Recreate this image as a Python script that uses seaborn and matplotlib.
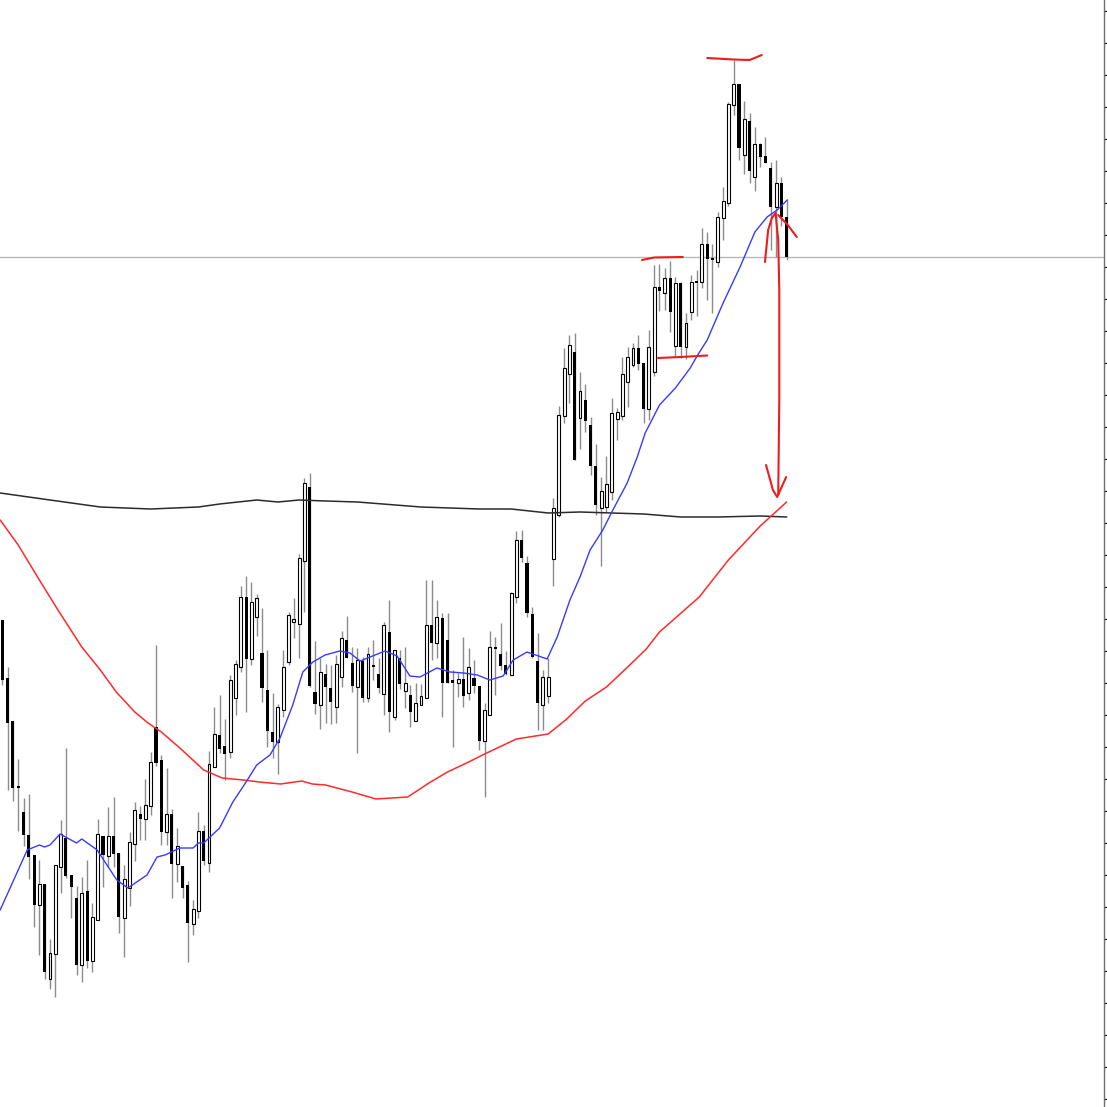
import numpy as np
import pandas as pd
import seaborn as sns
import matplotlib.pyplot as plt

# candle readings, chart levels measured from the top (axis is inverted)
open_ = [620, 678, 721, 786, 812, 835, 855, 905, 884, 979, 954, 867, 838, 875, 898, 965, 891, 961, 920, 836,
         856, 836, 853, 918, 888, 844, 814, 819, 806, 727, 760, 832, 814, 864, 866, 885, 924, 911, 831, 863,
         767, 735, 746, 752, 698, 667, 597, 659, 617, 653, 690, 732, 742, 710, 662, 622, 624, 561, 487, 692,
         705, 674, 688, 707, 677, 640, 663, 687, 661, 698, 665, 674, 694, 632, 717, 658, 691, 695, 721, 705,
         698, 625, 643, 618, 640, 680, 683, 679, 693, 678, 686, 741, 715, 647, 654, 665, 675, 597, 540, 563,
         614, 661, 705, 696, 559, 515, 416, 374, 352, 418, 400, 425, 466, 508, 507, 492, 419, 416, 382, 365,
         348, 363, 409, 372, 287, 293, 278, 346, 283, 347, 312, 281, 282, 244, 258, 262, 218, 203, 105, 84,
         155, 121, 177, 144, 156, 168, 207, 183, 217]
close = [680, 723, 788, 788, 835, 857, 905, 884, 972, 953, 865, 834, 876, 887, 965, 893, 961, 917, 834, 855,
         836, 854, 917, 879, 842, 810, 819, 805, 762, 763, 832, 814, 864, 846, 888, 923, 909, 831, 861, 764,
         734, 749, 754, 680, 664, 597, 659, 602, 598, 688, 731, 742, 707, 667, 615, 619, 558, 483, 686, 704,
         672, 687, 702, 664, 638, 658, 686, 660, 698, 654, 667, 688, 625, 712, 650, 684, 683, 712, 703, 696,
         625, 643, 617, 683, 683, 683, 679, 696, 667, 686, 741, 710, 647, 649, 666, 674, 593, 540, 558, 613,
         657, 703, 677, 677, 508, 415, 368, 345, 460, 391, 421, 466, 505, 491, 484, 413, 412, 374, 357, 348,
         364, 409, 347, 287, 291, 278, 312, 283, 347, 323, 282, 283, 244, 259, 260, 217, 201, 104, 84, 148,
         119, 171, 144, 157, 163, 207, 183, 217, 257]
wick_top = [620, 667, 721, 759, 798, 794, 855, 860, 884, 939, 865, 820, 748, 875, 886, 877, 860, 903, 819, 836,
            807, 797, 853, 865, 832, 802, 806, 779, 752, 645, 755, 768, 809, 828, 866, 881, 900, 812, 825, 751,
            707, 695, 719, 675, 660, 586, 576, 582, 594, 608, 650, 693, 704, 650, 612, 598, 554, 478, 473, 641,
            658, 664, 665, 655, 631, 616, 647, 648, 657, 647, 640, 658, 622, 600, 650, 650, 647, 685, 683, 684,
            580, 580, 600, 613, 613, 670, 673, 637, 648, 660, 686, 703, 631, 637, 623, 651, 592, 531, 530, 556,
            607, 633, 670, 658, 498, 406, 348, 335, 333, 372, 384, 417, 444, 477, 456, 398, 408, 357, 347, 343,
            335, 363, 330, 265, 264, 268, 261, 277, 282, 313, 275, 270, 228, 232, 244, 212, 187, 102, 60, 84,
            101, 113, 127, 143, 137, 162, 160, 177, 199]
wick_bot = [685, 790, 801, 831, 846, 879, 927, 955, 979, 989, 997, 893, 878, 918, 975, 982, 968, 972, 920, 887,
            867, 867, 933, 957, 906, 861, 840, 840, 815, 766, 845, 845, 898, 882, 898, 962, 935, 918, 865, 872,
            767, 753, 780, 758, 715, 672, 712, 665, 636, 702, 747, 758, 774, 717, 665, 638, 658, 612, 687, 714,
            729, 723, 724, 723, 687, 658, 692, 753, 702, 702, 680, 693, 715, 732, 720, 689, 708, 727, 721, 705,
            698, 660, 658, 717, 683, 747, 697, 707, 700, 693, 750, 797, 715, 695, 670, 675, 675, 603, 562, 617,
            658, 730, 730, 703, 586, 517, 423, 403, 460, 449, 432, 475, 515, 566, 512, 500, 440, 420, 407, 367,
            370, 423, 420, 376, 311, 310, 332, 357, 358, 359, 320, 316, 288, 300, 313, 267, 240, 206, 115, 160,
            174, 183, 191, 167, 163, 250, 257, 226, 260]

# moving averages, sampled at bar positions
ma_fast_bar = [-0.4, 4.7, 7, 8, 9, 10.9, 14, 15, 17.9, 21.6, 23.7, 27.3, 29.2, 30.7, 33.5, 36, 37, 38, 41, 43.5,
               46, 48, 50.5, 52.4, 54.8, 56.7, 58.6, 60.9, 63.7, 65.6, 67.5, 69.4, 72.2, 74.5, 76.9, 78.8, 82,
               84.5, 87, 89.6, 92, 94.5, 96.4, 99, 102.8, 104.7, 107.1, 109, 110.9, 113.3, 115.2, 117.9, 119.8,
               121.3, 124, 127, 129.8, 131.2, 133, 136, 139.2, 142, 144.3, 146.2, 148.1]
ma_fast = [910, 850, 845, 847, 845, 834, 843, 839, 850, 880, 888, 875, 857, 855, 848, 848, 843, 843, 828, 802,
           782, 765, 755, 738, 705, 672, 662, 655, 651, 653, 661, 657, 651, 656, 676, 677, 668, 672, 673, 675,
           680, 676, 660, 652, 659, 637, 600, 577, 550, 530, 510, 483, 457, 433, 405, 388, 368, 355, 340, 303,
           267, 232, 217, 210, 200]
ma_mid_bar = [-0.4, 3, 7, 10.5, 15, 18.5, 21.5, 25, 27.5, 30, 33.5, 38, 41.5, 45.5, 48.5, 52.5, 56.5, 58.5, 61,
              66, 70.5, 76.5, 80.5, 84, 88, 91, 97, 103, 106.5, 110, 114, 118, 121.5, 124, 131.5, 137, 143, 148]
ma_mid = [520, 545, 580, 610, 647, 670, 692, 712, 723, 732, 748, 770, 778, 780, 782, 784, 781, 784, 785, 792,
          799, 797, 783, 772, 762, 754, 739, 734, 719, 701, 687, 667, 649, 632, 597, 560, 526, 502]
ma_slow_bar = [-0.4, 9, 18.5, 28, 37, 41, 48, 52, 56, 61, 67, 79, 90, 96, 103, 109, 115, 121, 128, 135, 143, 148]
ma_slow = [493, 500, 507, 509, 507, 504, 500, 502, 500, 501, 502, 507, 509, 509, 513, 512, 513, 514, 517, 517,
           516, 517]

# hand drawn red marks
top_mark_bar = [133, 138, 141, 143.3]
top_mark_lvl = [58, 59.5, 60, 55]
mid_mark_bar = [120.7, 123, 128.4]
mid_mark_lvl = [260, 257.5, 257]
low_mark_bar = [123.7, 128, 133]
low_mark_lvl = [358, 357, 355.5]
arrow_bar = [143.9, 144.5, 145.2, 145.9, 146.4, 146.6, 146.6, 146.4]
arrow_lvl = [262, 230, 218, 213, 240, 290, 400, 495]
head_bar = [144.1, 145.4, 146.2, 147.9]
head_lvl = [465, 490, 497, 477]
slash_bar = [146.4, 148.2, 149.9]
slash_lvl = [215, 225, 237]
level_line = 257

sns.set_style("white")
fig = plt.figure(figsize=(11.07, 11.07), dpi=100)
ax = fig.add_axes([0, 0, 1104 / 1107, 1])

x = np.arange(len(open_))
o = np.array(open_)
c = np.array(close)
up = c < o

ax.axhline(level_line, color="#b8b8b8", lw=1, zorder=1)

ax.vlines(x, wick_top, wick_bot, color="#8c8c8c", lw=1.0, zorder=2)
body_lo = np.minimum(o, c)
body_h = np.maximum(np.abs(o - c), 1.5)
ax.bar(x[~up], body_h[~up], bottom=body_lo[~up], width=0.6, color="black", lw=0, zorder=3)
ax.bar(x[up], body_h[up], bottom=body_lo[up], width=0.55, color="white", edgecolor="black", lw=0.8, zorder=3)

sns.lineplot(x=ma_slow_bar, y=ma_slow, color="#2b2b2b", lw=1.1, sort=False, estimator=None, ax=ax, zorder=4)
sns.lineplot(x=ma_mid_bar, y=ma_mid, color="#ff2a2a", lw=1.1, sort=False, estimator=None, ax=ax, zorder=4)
sns.lineplot(x=ma_fast_bar, y=ma_fast, color="#3a3aff", lw=1.0, sort=False, estimator=None, ax=ax, zorder=4)

red = "#ee1c1c"
for bx, ly in [(top_mark_bar, top_mark_lvl), (mid_mark_bar, mid_mark_lvl), (low_mark_bar, low_mark_lvl),
               (arrow_bar, arrow_lvl), (head_bar, head_lvl), (slash_bar, slash_lvl)]:
    ax.plot(bx, ly, color=red, lw=1.5, solid_capstyle="round", solid_joinstyle="round", zorder=5)

ax.set_xlim(-2.3 / 5.3, (1104 - 2.3) / 5.3)
ax.set_ylim(1107, 0)
for s in ["top", "left", "bottom"]:
    ax.spines[s].set_visible(False)
ax.spines["right"].set_color("#6e6e6e")
ax.spines["right"].set_linewidth(1)
ax.yaxis.tick_right()
ax.set_yticks(np.arange(11, 1107, 32))
ax.tick_params(axis="y", direction="out", length=2.5, width=0.8, color="black", labelright=False)
ax.set_xticks([])
ax.set_xlabel("")
ax.set_ylabel("")

fig.savefig("out.png", dpi=100)
